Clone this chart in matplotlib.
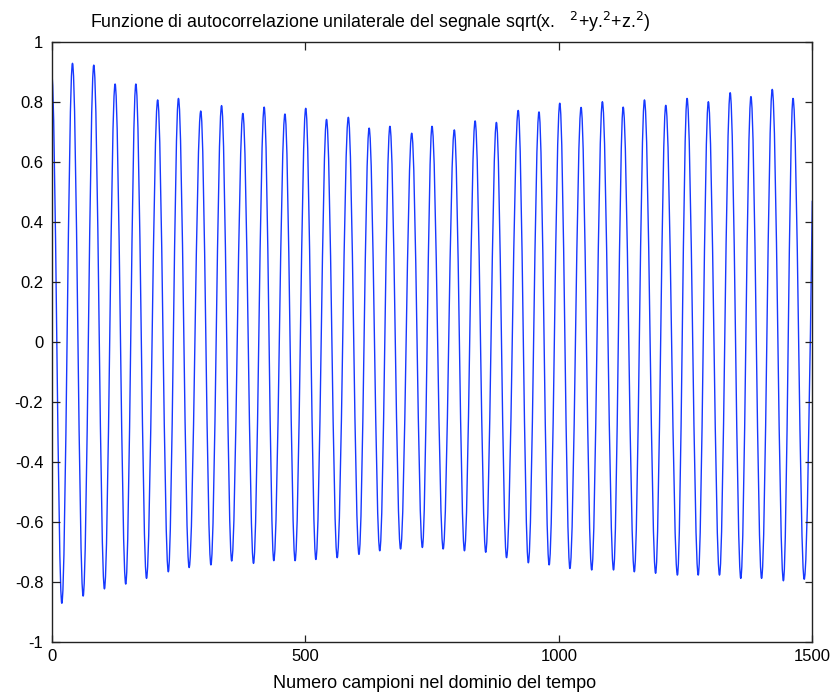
import matplotlib
matplotlib.use("Agg")
import matplotlib.pyplot as plt
from matplotlib.path import Path
from matplotlib.patches import PathPatch

# ---------------- data ----------------
title_text = "Funzione di autocorrelazione unilaterale del segnale sqrt(x.   $^2$+y.$^2$+z.$^2$)"
xlabel_text = "Numero campioni nel dominio del tempo"
xticks = [0, 500, 1000, 1500]
xtick_labels = ["0", "500", "1000", "1500"]
yticks = [-1, -0.8, -0.6, -0.4, -0.2, 0, 0.2, 0.4, 0.6, 0.8, 1]
ytick_labels = ["-1", "-0.8", "-0.6", "-0.4", "-0.2", "0", "0.2", "0.4", "0.6", "0.8", "1"]

# local maxima (lag, value)
peak_lag = [0, 41, 83, 125, 166, 209, 250, 294, 335, 377, 419, 460,
            501, 542, 585, 626, 667, 710, 750, 794, 835, 877, 920, 961,
            1002, 1044, 1086, 1127, 1169, 1211, 1253, 1295, 1338, 1379, 1421, 1462]
peak_val = [0.895, 0.928, 0.922, 0.859, 0.859, 0.806, 0.811, 0.769, 0.787, 0.761, 0.782, 0.759,
            0.778, 0.741, 0.748, 0.712, 0.718, 0.695, 0.718, 0.706, 0.736, 0.731, 0.771, 0.766,
            0.795, 0.781, 0.800, 0.782, 0.806, 0.788, 0.811, 0.800, 0.830, 0.817, 0.841, 0.811]

# local minima (lag, value)
trough_lag = [20, 62, 104, 146, 187, 230, 271, 314, 355, 398, 438, 480,
              521, 563, 606, 647, 688, 731, 772, 814, 856, 897, 940, 981,
              1022, 1065, 1108, 1149, 1191, 1234, 1275, 1317, 1359, 1400, 1443, 1484]
trough_val = [-0.872, -0.848, -0.824, -0.808, -0.789, -0.767, -0.753, -0.744, -0.731, -0.739, -0.730, -0.730,
              -0.726, -0.720, -0.709, -0.697, -0.691, -0.686, -0.691, -0.697, -0.702, -0.720, -0.737, -0.744,
              -0.756, -0.761, -0.761, -0.767, -0.772, -0.778, -0.778, -0.778, -0.789, -0.789, -0.797, -0.792]

end_lag = 1500
end_val = 0.47

# ---------------- figure ----------------
W, H = 834, 694
fig = plt.figure(figsize=(W / 100, H / 100), dpi=100)
fig.patch.set_facecolor("white")
x0, x1, y0, y1 = 51.7, 812.3, 41.7, 641.7
ax = fig.add_axes([x0 / W, 1 - y1 / H, (x1 - x0) / W, (y1 - y0) / H])

# alternating extrema sequence
xs, ys = [], []
for pl, pv, tl, tv in zip(peak_lag, peak_val, trough_lag, trough_val):
    xs += [pl, tl]
    ys += [pv, tv]
xs.append(end_lag)
ys.append(end_val)

# smooth half-cycles via cubic Bezier segments with flat tangents at extrema
k = 0.3634
verts = [(xs[0], ys[0])]
codes = [Path.MOVETO]
for i in range(len(xs) - 1):
    xa, ya, xb, yb = xs[i], ys[i], xs[i + 1], ys[i + 1]
    dx = xb - xa
    if i == len(xs) - 2:
        c2 = (xb - 0.3 * dx, yb - 0.45 * (yb - ya))
    else:
        c2 = (xb - k * dx, yb)
    verts += [(xa + k * dx, ya), c2, (xb, yb)]
    codes += [Path.CURVE4, Path.CURVE4, Path.CURVE4]
path = Path(verts, codes)
ax.add_patch(PathPatch(path, facecolor="none", edgecolor="#1638ff", lw=1.0,
                       transform=ax.transData, joinstyle="round"))

ax.set_xlim(0, 1500)
ax.set_ylim(-1, 1)
ax.set_xticks(xticks)
ax.set_xticklabels(xtick_labels)
ax.set_yticks(yticks)
ax.set_yticklabels(ytick_labels)

font = ["Liberation Sans", "DejaVu Sans"]
ax.tick_params(axis="both", direction="in", length=5.4, width=0.9, color="#222222",
               top=True, right=True, labelsize=12, labelcolor="black")
ax.tick_params(axis="x", pad=5)
ax.tick_params(axis="y", pad=6)
for lab in ax.get_xticklabels() + ax.get_yticklabels():
    lab.set_family(font)
for s in ax.spines.values():
    s.set_color("#222222")
    s.set_linewidth(1.0)

fig.text(90 / W, 1 - 28 / H, title_text, ha="left", va="baseline",
         fontsize=12.8, family=font, color="black")
fig.text(435 / W, 1 - 688 / H, xlabel_text, ha="center", va="baseline",
         fontsize=13, family=font, color="black")

fig.savefig("out.png", dpi=100, facecolor="white")
